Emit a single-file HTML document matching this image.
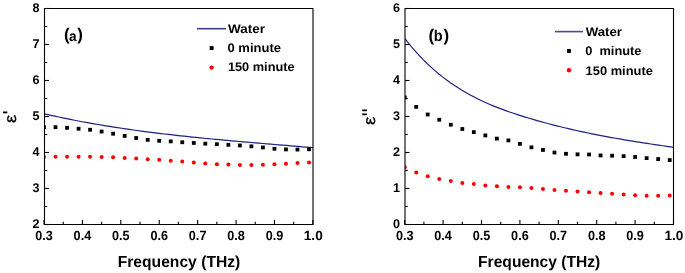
<!DOCTYPE html>
<html><head><meta charset="utf-8"><style>
html,body{margin:0;padding:0;background:#fff;}
svg{display:block;will-change:transform;text-rendering:geometricPrecision;}
</style></head><body>
<svg width="685" height="273" viewBox="0 0 685 273">
<rect width="685" height="273" fill="#fff"/>
<clipPath id="ca"><rect x="44.5" y="8.5" width="268.5" height="216.0"/></clipPath>
<g clip-path="url(#ca)">
<polyline points="43.00,113.55 46.93,114.45 50.86,115.33 54.78,116.19 58.71,117.03 62.64,117.86 66.57,118.67 70.49,119.46 74.42,120.23 78.35,120.98 82.28,121.72 86.20,122.45 90.13,123.15 94.06,123.85 97.99,124.52 101.91,125.18 105.84,125.83 109.77,126.46 113.70,127.08 117.62,127.69 121.55,128.28 125.48,128.86 129.41,129.43 133.33,129.98 137.26,130.52 141.19,131.05 145.12,131.57 149.04,132.08 152.97,132.58 156.90,133.07 160.83,133.55 164.75,134.01 168.68,134.47 172.61,134.92 176.54,135.36 180.46,135.79 184.39,136.22 188.32,136.63 192.25,137.04 196.17,137.44 200.10,137.84 204.03,138.23 207.96,138.61 211.88,138.99 215.81,139.36 219.74,139.72 223.67,140.08 227.59,140.44 231.52,140.79 235.45,141.14 239.38,141.49 243.30,141.83 247.23,142.17 251.16,142.50 255.09,142.83 259.01,143.17 262.94,143.50 266.87,143.83 270.80,144.15 274.72,144.48 278.65,144.81 282.58,145.13 286.51,145.46 290.43,145.79 294.36,146.12 298.29,146.45 302.22,146.78 306.14,147.11 310.07,147.45 314.00,147.79" fill="none" stroke="#202082" stroke-width="1.2"/>
<rect x="42.10" y="125.20" width="3.8" height="3.8" fill="#000"/>
<rect x="53.62" y="125.30" width="3.8" height="3.8" fill="#000"/>
<rect x="65.14" y="125.90" width="3.8" height="3.8" fill="#000"/>
<rect x="76.67" y="126.85" width="3.8" height="3.8" fill="#000"/>
<rect x="88.19" y="127.85" width="3.8" height="3.8" fill="#000"/>
<rect x="99.71" y="129.65" width="3.8" height="3.8" fill="#000"/>
<rect x="111.23" y="131.80" width="3.8" height="3.8" fill="#000"/>
<rect x="122.75" y="134.00" width="3.8" height="3.8" fill="#000"/>
<rect x="134.27" y="136.10" width="3.8" height="3.8" fill="#000"/>
<rect x="145.80" y="137.95" width="3.8" height="3.8" fill="#000"/>
<rect x="157.32" y="138.90" width="3.8" height="3.8" fill="#000"/>
<rect x="168.84" y="139.50" width="3.8" height="3.8" fill="#000"/>
<rect x="180.36" y="140.35" width="3.8" height="3.8" fill="#000"/>
<rect x="191.88" y="141.05" width="3.8" height="3.8" fill="#000"/>
<rect x="203.40" y="141.75" width="3.8" height="3.8" fill="#000"/>
<rect x="214.93" y="142.30" width="3.8" height="3.8" fill="#000"/>
<rect x="226.45" y="142.90" width="3.8" height="3.8" fill="#000"/>
<rect x="237.97" y="143.55" width="3.8" height="3.8" fill="#000"/>
<rect x="249.49" y="144.45" width="3.8" height="3.8" fill="#000"/>
<rect x="261.01" y="145.55" width="3.8" height="3.8" fill="#000"/>
<rect x="272.53" y="146.85" width="3.8" height="3.8" fill="#000"/>
<rect x="284.06" y="147.50" width="3.8" height="3.8" fill="#000"/>
<rect x="295.58" y="147.65" width="3.8" height="3.8" fill="#000"/>
<rect x="307.10" y="147.40" width="3.8" height="3.8" fill="#000"/>
<circle cx="44.00" cy="157.00" r="2.0" fill="#f00"/>
<circle cx="55.52" cy="156.80" r="2.0" fill="#f00"/>
<circle cx="67.04" cy="156.75" r="2.0" fill="#f00"/>
<circle cx="78.57" cy="156.70" r="2.0" fill="#f00"/>
<circle cx="90.09" cy="156.70" r="2.0" fill="#f00"/>
<circle cx="101.61" cy="156.95" r="2.0" fill="#f00"/>
<circle cx="113.13" cy="157.30" r="2.0" fill="#f00"/>
<circle cx="124.65" cy="158.05" r="2.0" fill="#f00"/>
<circle cx="136.17" cy="158.50" r="2.0" fill="#f00"/>
<circle cx="147.70" cy="159.25" r="2.0" fill="#f00"/>
<circle cx="159.22" cy="159.75" r="2.0" fill="#f00"/>
<circle cx="170.74" cy="160.70" r="2.0" fill="#f00"/>
<circle cx="182.26" cy="161.40" r="2.0" fill="#f00"/>
<circle cx="193.78" cy="162.60" r="2.0" fill="#f00"/>
<circle cx="205.30" cy="163.45" r="2.0" fill="#f00"/>
<circle cx="216.83" cy="164.25" r="2.0" fill="#f00"/>
<circle cx="228.35" cy="164.60" r="2.0" fill="#f00"/>
<circle cx="239.87" cy="164.90" r="2.0" fill="#f00"/>
<circle cx="251.39" cy="164.90" r="2.0" fill="#f00"/>
<circle cx="262.91" cy="164.70" r="2.0" fill="#f00"/>
<circle cx="274.43" cy="164.20" r="2.0" fill="#f00"/>
<circle cx="285.96" cy="163.70" r="2.0" fill="#f00"/>
<circle cx="297.48" cy="163.05" r="2.0" fill="#f00"/>
<circle cx="309.00" cy="162.50" r="2.0" fill="#f00"/>
</g>
<path d="M44.5,8.5H313V224.5H44.5Z" fill="none" stroke="#000" stroke-width="1.1"/>
<line x1="44.00" y1="224.5" x2="44.00" y2="220.0" stroke="#000" stroke-width="1.1"/>
<text x="44.00" y="240.0" text-anchor="middle" textLength="17.6" lengthAdjust="spacingAndGlyphs" font-family="Liberation Sans, sans-serif" font-weight="bold" font-size="13.3">0.3</text>
<line x1="63.20" y1="224.5" x2="63.20" y2="221.7" stroke="#000" stroke-width="1.1"/>
<line x1="82.41" y1="224.5" x2="82.41" y2="220.0" stroke="#000" stroke-width="1.1"/>
<text x="82.41" y="240.0" text-anchor="middle" textLength="17.6" lengthAdjust="spacingAndGlyphs" font-family="Liberation Sans, sans-serif" font-weight="bold" font-size="13.3">0.4</text>
<line x1="101.61" y1="224.5" x2="101.61" y2="221.7" stroke="#000" stroke-width="1.1"/>
<line x1="120.81" y1="224.5" x2="120.81" y2="220.0" stroke="#000" stroke-width="1.1"/>
<text x="120.81" y="240.0" text-anchor="middle" textLength="17.6" lengthAdjust="spacingAndGlyphs" font-family="Liberation Sans, sans-serif" font-weight="bold" font-size="13.3">0.5</text>
<line x1="140.02" y1="224.5" x2="140.02" y2="221.7" stroke="#000" stroke-width="1.1"/>
<line x1="159.22" y1="224.5" x2="159.22" y2="220.0" stroke="#000" stroke-width="1.1"/>
<text x="159.22" y="240.0" text-anchor="middle" textLength="17.6" lengthAdjust="spacingAndGlyphs" font-family="Liberation Sans, sans-serif" font-weight="bold" font-size="13.3">0.6</text>
<line x1="178.43" y1="224.5" x2="178.43" y2="221.7" stroke="#000" stroke-width="1.1"/>
<line x1="197.63" y1="224.5" x2="197.63" y2="220.0" stroke="#000" stroke-width="1.1"/>
<text x="197.63" y="240.0" text-anchor="middle" textLength="17.6" lengthAdjust="spacingAndGlyphs" font-family="Liberation Sans, sans-serif" font-weight="bold" font-size="13.3">0.7</text>
<line x1="216.83" y1="224.5" x2="216.83" y2="221.7" stroke="#000" stroke-width="1.1"/>
<line x1="236.04" y1="224.5" x2="236.04" y2="220.0" stroke="#000" stroke-width="1.1"/>
<text x="236.04" y="240.0" text-anchor="middle" textLength="17.6" lengthAdjust="spacingAndGlyphs" font-family="Liberation Sans, sans-serif" font-weight="bold" font-size="13.3">0.8</text>
<line x1="255.24" y1="224.5" x2="255.24" y2="221.7" stroke="#000" stroke-width="1.1"/>
<line x1="274.44" y1="224.5" x2="274.44" y2="220.0" stroke="#000" stroke-width="1.1"/>
<text x="274.44" y="240.0" text-anchor="middle" textLength="17.6" lengthAdjust="spacingAndGlyphs" font-family="Liberation Sans, sans-serif" font-weight="bold" font-size="13.3">0.9</text>
<line x1="293.65" y1="224.5" x2="293.65" y2="221.7" stroke="#000" stroke-width="1.1"/>
<line x1="312.85" y1="224.5" x2="312.85" y2="220.0" stroke="#000" stroke-width="1.1"/>
<text x="313.25" y="240.0" text-anchor="middle" textLength="19.0" lengthAdjust="spacingAndGlyphs" font-family="Liberation Sans, sans-serif" font-weight="bold" font-size="13.3">1.0</text>
<line x1="44.5" y1="224.50" x2="49.0" y2="224.50" stroke="#000" stroke-width="1.1"/>
<text x="39.5" y="227.80" text-anchor="end" font-family="Liberation Sans, sans-serif" font-weight="bold" font-size="12.6">2</text>
<line x1="44.5" y1="206.50" x2="47.3" y2="206.50" stroke="#000" stroke-width="1.1"/>
<line x1="44.5" y1="188.50" x2="49.0" y2="188.50" stroke="#000" stroke-width="1.1"/>
<text x="39.5" y="191.80" text-anchor="end" font-family="Liberation Sans, sans-serif" font-weight="bold" font-size="12.6">3</text>
<line x1="44.5" y1="170.50" x2="47.3" y2="170.50" stroke="#000" stroke-width="1.1"/>
<line x1="44.5" y1="152.50" x2="49.0" y2="152.50" stroke="#000" stroke-width="1.1"/>
<text x="39.5" y="155.80" text-anchor="end" font-family="Liberation Sans, sans-serif" font-weight="bold" font-size="12.6">4</text>
<line x1="44.5" y1="134.50" x2="47.3" y2="134.50" stroke="#000" stroke-width="1.1"/>
<line x1="44.5" y1="116.50" x2="49.0" y2="116.50" stroke="#000" stroke-width="1.1"/>
<text x="39.5" y="119.80" text-anchor="end" font-family="Liberation Sans, sans-serif" font-weight="bold" font-size="12.6">5</text>
<line x1="44.5" y1="98.50" x2="47.3" y2="98.50" stroke="#000" stroke-width="1.1"/>
<line x1="44.5" y1="80.50" x2="49.0" y2="80.50" stroke="#000" stroke-width="1.1"/>
<text x="39.5" y="83.80" text-anchor="end" font-family="Liberation Sans, sans-serif" font-weight="bold" font-size="12.6">6</text>
<line x1="44.5" y1="62.50" x2="47.3" y2="62.50" stroke="#000" stroke-width="1.1"/>
<line x1="44.5" y1="44.50" x2="49.0" y2="44.50" stroke="#000" stroke-width="1.1"/>
<text x="39.5" y="47.80" text-anchor="end" font-family="Liberation Sans, sans-serif" font-weight="bold" font-size="12.6">7</text>
<line x1="44.5" y1="26.50" x2="47.3" y2="26.50" stroke="#000" stroke-width="1.1"/>
<line x1="44.5" y1="8.50" x2="49.0" y2="8.50" stroke="#000" stroke-width="1.1"/>
<text x="39.5" y="11.80" text-anchor="end" font-family="Liberation Sans, sans-serif" font-weight="bold" font-size="12.6">8</text>
<clipPath id="cb"><rect x="405" y="8.5" width="268.5" height="216.0"/></clipPath>
<g clip-path="url(#cb)">
<polyline points="403.50,36.86 407.43,41.88 411.36,46.65 415.28,51.19 419.21,55.50 423.14,59.60 427.07,63.48 430.99,67.17 434.92,70.66 438.85,73.97 442.78,77.11 446.70,80.09 450.63,82.91 454.56,85.58 458.49,88.12 462.41,90.54 466.34,92.83 470.27,95.01 474.20,97.09 478.12,99.06 482.05,100.95 485.98,102.74 489.91,104.45 493.83,106.08 497.76,107.65 501.69,109.14 505.62,110.58 509.54,111.96 513.47,113.29 517.40,114.59 521.33,115.84 525.25,117.06 529.18,118.25 533.11,119.42 537.04,120.55 540.96,121.66 544.89,122.74 548.82,123.79 552.75,124.82 556.67,125.82 560.60,126.79 564.53,127.75 568.46,128.68 572.38,129.58 576.31,130.47 580.24,131.33 584.17,132.18 588.09,133.00 592.02,133.81 595.95,134.59 599.88,135.36 603.80,136.11 607.73,136.85 611.66,137.57 615.59,138.27 619.51,138.96 623.44,139.63 627.37,140.29 631.30,140.94 635.22,141.58 639.15,142.21 643.08,142.82 647.01,143.43 650.93,144.03 654.86,144.61 658.79,145.19 662.72,145.77 666.64,146.33 670.57,146.89 674.50,147.45" fill="none" stroke="#202082" stroke-width="1.2"/>
<rect x="402.80" y="95.60" width="3.8" height="3.8" fill="#000"/>
<rect x="414.32" y="105.00" width="3.8" height="3.8" fill="#000"/>
<rect x="425.84" y="112.60" width="3.8" height="3.8" fill="#000"/>
<rect x="437.37" y="117.85" width="3.8" height="3.8" fill="#000"/>
<rect x="448.89" y="122.80" width="3.8" height="3.8" fill="#000"/>
<rect x="460.41" y="127.10" width="3.8" height="3.8" fill="#000"/>
<rect x="471.93" y="130.20" width="3.8" height="3.8" fill="#000"/>
<rect x="483.45" y="133.50" width="3.8" height="3.8" fill="#000"/>
<rect x="494.97" y="136.70" width="3.8" height="3.8" fill="#000"/>
<rect x="506.50" y="138.50" width="3.8" height="3.8" fill="#000"/>
<rect x="518.02" y="141.95" width="3.8" height="3.8" fill="#000"/>
<rect x="529.54" y="145.45" width="3.8" height="3.8" fill="#000"/>
<rect x="541.06" y="148.05" width="3.8" height="3.8" fill="#000"/>
<rect x="552.58" y="150.65" width="3.8" height="3.8" fill="#000"/>
<rect x="564.10" y="151.90" width="3.8" height="3.8" fill="#000"/>
<rect x="575.63" y="152.45" width="3.8" height="3.8" fill="#000"/>
<rect x="587.15" y="152.60" width="3.8" height="3.8" fill="#000"/>
<rect x="598.67" y="153.55" width="3.8" height="3.8" fill="#000"/>
<rect x="610.19" y="153.80" width="3.8" height="3.8" fill="#000"/>
<rect x="621.71" y="154.25" width="3.8" height="3.8" fill="#000"/>
<rect x="633.23" y="155.10" width="3.8" height="3.8" fill="#000"/>
<rect x="644.76" y="156.20" width="3.8" height="3.8" fill="#000"/>
<rect x="656.28" y="157.15" width="3.8" height="3.8" fill="#000"/>
<rect x="667.80" y="158.20" width="3.8" height="3.8" fill="#000"/>
<circle cx="404.70" cy="167.25" r="2.0" fill="#f00"/>
<circle cx="416.22" cy="172.50" r="2.0" fill="#f00"/>
<circle cx="427.74" cy="176.25" r="2.0" fill="#f00"/>
<circle cx="439.27" cy="179.00" r="2.0" fill="#f00"/>
<circle cx="450.79" cy="180.90" r="2.0" fill="#f00"/>
<circle cx="462.31" cy="183.00" r="2.0" fill="#f00"/>
<circle cx="473.83" cy="183.95" r="2.0" fill="#f00"/>
<circle cx="485.35" cy="185.45" r="2.0" fill="#f00"/>
<circle cx="496.87" cy="186.30" r="2.0" fill="#f00"/>
<circle cx="508.40" cy="187.00" r="2.0" fill="#f00"/>
<circle cx="519.92" cy="187.25" r="2.0" fill="#f00"/>
<circle cx="531.44" cy="187.90" r="2.0" fill="#f00"/>
<circle cx="542.96" cy="189.00" r="2.0" fill="#f00"/>
<circle cx="554.48" cy="189.95" r="2.0" fill="#f00"/>
<circle cx="566.00" cy="190.85" r="2.0" fill="#f00"/>
<circle cx="577.53" cy="191.50" r="2.0" fill="#f00"/>
<circle cx="589.05" cy="192.30" r="2.0" fill="#f00"/>
<circle cx="600.57" cy="193.05" r="2.0" fill="#f00"/>
<circle cx="612.09" cy="193.65" r="2.0" fill="#f00"/>
<circle cx="623.61" cy="194.45" r="2.0" fill="#f00"/>
<circle cx="635.13" cy="195.25" r="2.0" fill="#f00"/>
<circle cx="646.66" cy="195.70" r="2.0" fill="#f00"/>
<circle cx="658.18" cy="195.75" r="2.0" fill="#f00"/>
<circle cx="669.70" cy="195.55" r="2.0" fill="#f00"/>
</g>
<path d="M405,8.5H673.5V224.5H405Z" fill="none" stroke="#000" stroke-width="1.1"/>
<line x1="404.70" y1="224.5" x2="404.70" y2="220.0" stroke="#000" stroke-width="1.1"/>
<text x="404.70" y="240.0" text-anchor="middle" textLength="17.6" lengthAdjust="spacingAndGlyphs" font-family="Liberation Sans, sans-serif" font-weight="bold" font-size="13.3">0.3</text>
<line x1="423.90" y1="224.5" x2="423.90" y2="221.7" stroke="#000" stroke-width="1.1"/>
<line x1="443.10" y1="224.5" x2="443.10" y2="220.0" stroke="#000" stroke-width="1.1"/>
<text x="443.10" y="240.0" text-anchor="middle" textLength="17.6" lengthAdjust="spacingAndGlyphs" font-family="Liberation Sans, sans-serif" font-weight="bold" font-size="13.3">0.4</text>
<line x1="462.30" y1="224.5" x2="462.30" y2="221.7" stroke="#000" stroke-width="1.1"/>
<line x1="481.50" y1="224.5" x2="481.50" y2="220.0" stroke="#000" stroke-width="1.1"/>
<text x="481.50" y="240.0" text-anchor="middle" textLength="17.6" lengthAdjust="spacingAndGlyphs" font-family="Liberation Sans, sans-serif" font-weight="bold" font-size="13.3">0.5</text>
<line x1="500.70" y1="224.5" x2="500.70" y2="221.7" stroke="#000" stroke-width="1.1"/>
<line x1="519.90" y1="224.5" x2="519.90" y2="220.0" stroke="#000" stroke-width="1.1"/>
<text x="519.90" y="240.0" text-anchor="middle" textLength="17.6" lengthAdjust="spacingAndGlyphs" font-family="Liberation Sans, sans-serif" font-weight="bold" font-size="13.3">0.6</text>
<line x1="539.10" y1="224.5" x2="539.10" y2="221.7" stroke="#000" stroke-width="1.1"/>
<line x1="558.30" y1="224.5" x2="558.30" y2="220.0" stroke="#000" stroke-width="1.1"/>
<text x="558.30" y="240.0" text-anchor="middle" textLength="17.6" lengthAdjust="spacingAndGlyphs" font-family="Liberation Sans, sans-serif" font-weight="bold" font-size="13.3">0.7</text>
<line x1="577.50" y1="224.5" x2="577.50" y2="221.7" stroke="#000" stroke-width="1.1"/>
<line x1="596.70" y1="224.5" x2="596.70" y2="220.0" stroke="#000" stroke-width="1.1"/>
<text x="596.70" y="240.0" text-anchor="middle" textLength="17.6" lengthAdjust="spacingAndGlyphs" font-family="Liberation Sans, sans-serif" font-weight="bold" font-size="13.3">0.8</text>
<line x1="615.90" y1="224.5" x2="615.90" y2="221.7" stroke="#000" stroke-width="1.1"/>
<line x1="635.10" y1="224.5" x2="635.10" y2="220.0" stroke="#000" stroke-width="1.1"/>
<text x="635.10" y="240.0" text-anchor="middle" textLength="17.6" lengthAdjust="spacingAndGlyphs" font-family="Liberation Sans, sans-serif" font-weight="bold" font-size="13.3">0.9</text>
<line x1="654.30" y1="224.5" x2="654.30" y2="221.7" stroke="#000" stroke-width="1.1"/>
<line x1="673.50" y1="224.5" x2="673.50" y2="220.0" stroke="#000" stroke-width="1.1"/>
<text x="673.90" y="240.0" text-anchor="middle" textLength="19.0" lengthAdjust="spacingAndGlyphs" font-family="Liberation Sans, sans-serif" font-weight="bold" font-size="13.3">1.0</text>
<line x1="405" y1="224.50" x2="409.5" y2="224.50" stroke="#000" stroke-width="1.1"/>
<text x="400" y="227.80" text-anchor="end" font-family="Liberation Sans, sans-serif" font-weight="bold" font-size="12.6">0</text>
<line x1="405" y1="206.50" x2="407.8" y2="206.50" stroke="#000" stroke-width="1.1"/>
<line x1="405" y1="188.50" x2="409.5" y2="188.50" stroke="#000" stroke-width="1.1"/>
<text x="400" y="191.80" text-anchor="end" font-family="Liberation Sans, sans-serif" font-weight="bold" font-size="12.6">1</text>
<line x1="405" y1="170.50" x2="407.8" y2="170.50" stroke="#000" stroke-width="1.1"/>
<line x1="405" y1="152.50" x2="409.5" y2="152.50" stroke="#000" stroke-width="1.1"/>
<text x="400" y="155.80" text-anchor="end" font-family="Liberation Sans, sans-serif" font-weight="bold" font-size="12.6">2</text>
<line x1="405" y1="134.50" x2="407.8" y2="134.50" stroke="#000" stroke-width="1.1"/>
<line x1="405" y1="116.50" x2="409.5" y2="116.50" stroke="#000" stroke-width="1.1"/>
<text x="400" y="119.80" text-anchor="end" font-family="Liberation Sans, sans-serif" font-weight="bold" font-size="12.6">3</text>
<line x1="405" y1="98.50" x2="407.8" y2="98.50" stroke="#000" stroke-width="1.1"/>
<line x1="405" y1="80.50" x2="409.5" y2="80.50" stroke="#000" stroke-width="1.1"/>
<text x="400" y="83.80" text-anchor="end" font-family="Liberation Sans, sans-serif" font-weight="bold" font-size="12.6">4</text>
<line x1="405" y1="62.50" x2="407.8" y2="62.50" stroke="#000" stroke-width="1.1"/>
<line x1="405" y1="44.50" x2="409.5" y2="44.50" stroke="#000" stroke-width="1.1"/>
<text x="400" y="47.80" text-anchor="end" font-family="Liberation Sans, sans-serif" font-weight="bold" font-size="12.6">5</text>
<line x1="405" y1="26.50" x2="407.8" y2="26.50" stroke="#000" stroke-width="1.1"/>
<line x1="405" y1="8.50" x2="409.5" y2="8.50" stroke="#000" stroke-width="1.1"/>
<text x="400" y="11.80" text-anchor="end" font-family="Liberation Sans, sans-serif" font-weight="bold" font-size="12.6">6</text>
<text x="63.9" y="40.3" font-family="Liberation Sans, sans-serif" font-weight="bold" font-size="17">(</text>
<text x="68.9" y="40.5" textLength="7.6" lengthAdjust="spacingAndGlyphs" font-family="Liberation Sans, sans-serif" font-weight="bold" font-size="14.2">a</text>
<text x="77.3" y="40.3" font-family="Liberation Sans, sans-serif" font-weight="bold" font-size="17">)</text>
<text x="428.5" y="40.5" font-family="Liberation Sans, sans-serif" font-weight="bold" font-size="17">(</text>
<text x="433.8" y="40.7" textLength="8.9" lengthAdjust="spacingAndGlyphs" font-family="Liberation Sans, sans-serif" font-weight="bold" font-size="15.6">b</text>
<text x="443.4" y="40.5" font-family="Liberation Sans, sans-serif" font-weight="bold" font-size="17">)</text>
<text x="117.7" y="266.6" textLength="122.6" lengthAdjust="spacingAndGlyphs" font-family="Liberation Sans, sans-serif" font-weight="bold" font-size="15.9">Frequency (THz)</text>
<text x="478.1" y="266.6" textLength="122.2" lengthAdjust="spacingAndGlyphs" font-family="Liberation Sans, sans-serif" font-weight="bold" font-size="15.9">Frequency (THz)</text>
<line x1="197" y1="28.7" x2="226" y2="28.7" stroke="#3c3c88" stroke-width="1.6"/>
<text x="227.9" y="32.6" textLength="37" lengthAdjust="spacingAndGlyphs" font-family="Liberation Sans, sans-serif" font-weight="bold" font-size="12.5">Water</text>
<rect x="209.7" y="46.1" width="3.9" height="3.9" fill="#000"/>
<text x="227.5" y="51.9" textLength="53.5" lengthAdjust="spacingAndGlyphs" font-family="Liberation Sans, sans-serif" font-weight="bold" font-size="12.5">0 minute</text>
<circle cx="211.6" cy="67.6" r="2.2" fill="#f00"/>
<text x="227.9" y="71.4" textLength="66.7" lengthAdjust="spacingAndGlyphs" font-family="Liberation Sans, sans-serif" font-weight="bold" font-size="12.5">150 minute</text>
<line x1="555" y1="31.6" x2="583" y2="31.6" stroke="#4a4a96" stroke-width="1.6"/>
<text x="585.7" y="35.9" textLength="36.3" lengthAdjust="spacingAndGlyphs" font-family="Liberation Sans, sans-serif" font-weight="bold" font-size="12.5">Water</text>
<rect x="567" y="49" width="3.9" height="3.9" fill="#000"/>
<text x="585.2" y="55.4" textLength="56.3" lengthAdjust="spacingAndGlyphs" font-family="Liberation Sans, sans-serif" font-weight="bold" font-size="12.5" xml:space="preserve">0  minute</text>
<circle cx="569" cy="70.2" r="2.2" fill="#f00"/>
<text x="585.6" y="74.7" textLength="67.3" lengthAdjust="spacingAndGlyphs" font-family="Liberation Sans, sans-serif" font-weight="bold" font-size="12.5">150 minute</text>
<text transform="translate(15.5,118.85) rotate(-90) scale(1.12,1)" text-anchor="middle" font-family="Liberation Sans, sans-serif" font-size="16.5" stroke="#000" stroke-width="0.3">ε</text>
<rect x="3" y="111.5" width="4.3" height="1.8" fill="#000"/>
<text transform="translate(374.9,120.85) rotate(-90) scale(1.12,1)" text-anchor="middle" font-family="Liberation Sans, sans-serif" font-size="16.5" stroke="#000" stroke-width="0.3">ε</text>
<rect x="362.2" y="109.5" width="4.8" height="1.7" fill="#000"/>
<rect x="362.2" y="113.5" width="4.8" height="1.7" fill="#000"/>
</svg>
</body></html>
